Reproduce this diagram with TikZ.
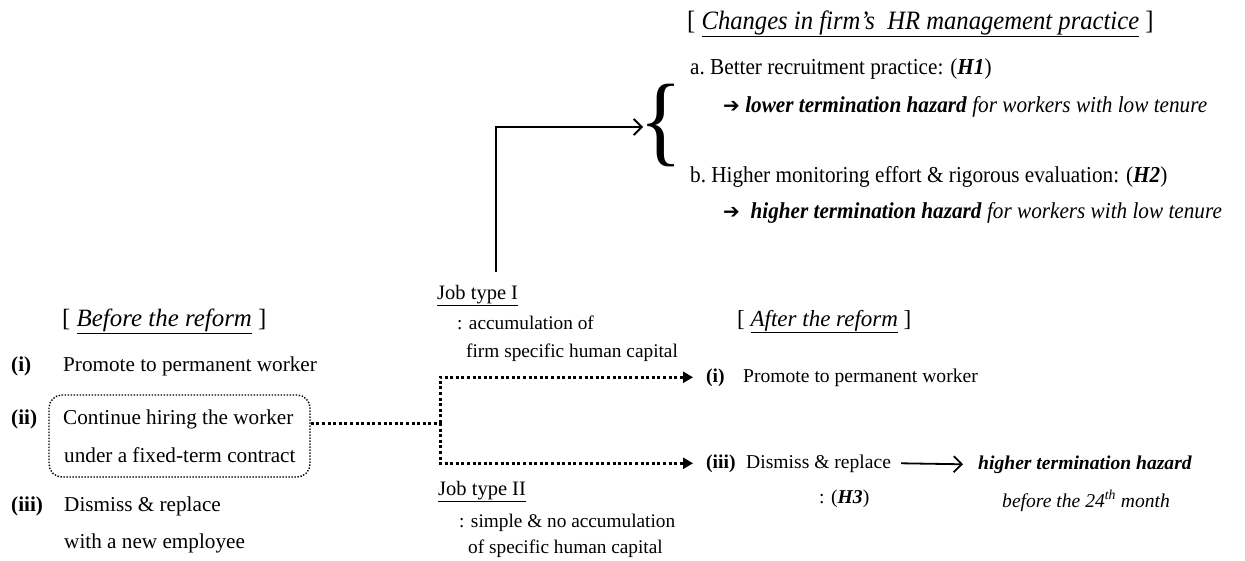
\documentclass[tikz,border=0pt]{standalone}
\usepackage{fontspec}
\usepackage{graphicx}
\setmainfont{Liberation Serif}
\newfontfamily\condserif[FakeStretch=0.93,Ligatures=TeX]{Liberation Serif}
\newfontfamily\dejavu{DejaVu Sans}
\usetikzlibrary{arrows.meta}
\begin{document}
\begin{tikzpicture}[x=1pt,y=-1pt,
  txt/.style={inner sep=0pt, anchor=base west, font=\fontsize{21.2}{25}\selectfont},
  aft/.style={inner sep=0pt, anchor=base west, font=\fontsize{19.6}{23}\selectfont},
  job/.style={inner sep=0pt, anchor=base west, font=\fontsize{20.5}{24}\selectfont},
  jobd/.style={inner sep=0pt, anchor=base west, font=\fontsize{19.3}{23}\selectfont},
  top/.style={inner sep=0pt, anchor=base west, font=\condserif\fontsize{22.8}{27}\selectfont},
  ttl/.style={inner sep=0pt, anchor=base west, font=\condserif\fontsize{26.5}{30}\selectfont},
  headb/.style={inner sep=0pt, anchor=base west, font=\fontsize{24.9}{29}\selectfont},
  heada/.style={inner sep=0pt, anchor=base west, font=\fontsize{23}{27}\selectfont},
  dotline/.style={line width=3pt, dash pattern=on 3pt off 2.6pt},
  dotarrow/.style={dotline, -{Triangle[length=10pt,width=11pt]}},
  solidarrow/.style={line width=1.8pt, -{Straight Barb[length=8pt,width=16pt,line width=1.8pt]}}
]
\useasboundingbox (0,0) rectangle (1245,560);

% Before the reform
\node[headb] (bt) at (62,326) {[ \underline{\textit{Before the reform}} ]};
\node[txt] (bi) at (11,371) {\textbf{(i)}};
\node[txt] (bpro) at (63,371) {Promote to permanent worker};
\node[txt] (bii) at (11,424) {\textbf{(ii)}};
\node[txt] (bc1) at (63,424) {Continue hiring the worker};
\node[txt] (bc2) at (64,462) {under a fixed-term contract};
\node[draw, line width=1.4pt, dash pattern=on 1.4pt off 1.6pt, rounded corners=13pt,
      minimum width=261pt, minimum height=82pt, inner sep=0pt] (box) at (179.5,436) {};
\node[txt] (biii) at (11,511) {\textbf{(iii)}};
\node[txt] (bdis) at (64,511) {Dismiss \& replace};
\node[txt] (bnew) at (64,548) {with a new employee};

% Job types
\node[job] (jt1) at (437,299) {\underline{Job type I}};
\node[jobd] (jt1a) at (457,329) {: accumulation of};
\node[jobd] (jt1b) at (466,357) {firm specific human capital};
\node[job] (jt2) at (438,495) {\underline{Job type II}};
\node[jobd] (jt2a) at (459,527) {: simple \& no accumulation};
\node[jobd] (jt2b) at (468,553) {of specific human capital};

% After the reform
\node[heada] (at) at (737,326) {[ \underline{\textit{After the reform}} ]};
\node[aft] (ai) at (706,382) {\textbf{(i)}};
\node[aft] (apro) at (743,382) {Promote to permanent worker};
\node[aft] (aiii) at (706,468) {\textbf{(iii)}};
\node[aft] (adis) at (746,468) {Dismiss \& replace};
\node[aft] (ah3) at (819,503) {: (\textbf{\textit{H3}})};
\node[aft] (hth) at (978,469) {\textbf{\textit{higher termination hazard}}};
\node[aft] (b24) at (1002,507) {\textit{before the 24\textsuperscript{th} month}};

% HR practice
\node[ttl] (ct) at (687,29) {[ \underline{\textit{Changes in firm’s\ \ HR management practice}} ]};
\node[top] (ta) at (690,74) {a.\ Better recruitment practice: (\textbf{\textit{H1}})};
\node[top] (tal) at (723,112) {{\dejavu\fontsize{20}{20}\selectfont ➔} \textbf{\textit{lower termination hazard}} \textit{for workers with low tenure}};
\node[top] (tb) at (690,182) {b.\ Higher monitoring effort \& rigorous evaluation: (\textbf{\textit{H2}})};
\node[top] (tbl) at (723,218) {{\dejavu\fontsize{20}{20}\selectfont ➔}\ \ \textbf{\textit{higher termination hazard}} \textit{for workers with low tenure}};
\node[inner sep=0pt] (brace) at (661,125) {\scalebox{0.9}[1]{\fontsize{100}{100}\selectfont\{}};

% connectors
\coordinate (c1) at (496,272);
\coordinate (bend) at (643,127);
\draw[solidarrow] (c1) |- (bend);

\coordinate (split) at (440,423);
\draw[dotline] (box.east |- split) -- (split);
\draw[dotarrow] (split) |- ([xshift=-13pt]ai.west);
\draw[dotarrow] (split) |- ([xshift=-13pt]aiii.west);

\draw[solidarrow] ([xshift=10pt]adis.east) -- ([xshift=-15pt]hth.west);
\end{tikzpicture}
\end{document}
